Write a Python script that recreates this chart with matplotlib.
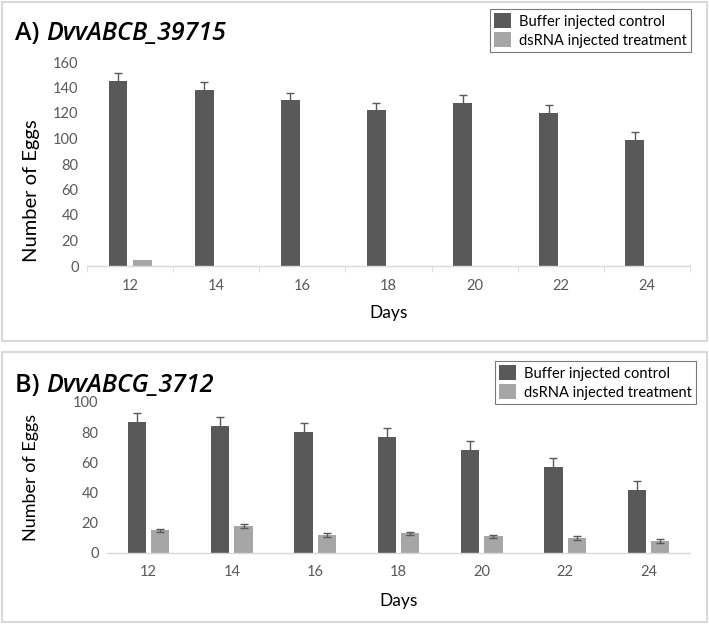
import numpy as np
import matplotlib
matplotlib.use("Agg")
import matplotlib.pyplot as plt
from matplotlib.patches import Rectangle

# data
days = ["12", "14", "16", "18", "20", "22", "24"]

control_a = [145, 138, 130, 122, 128, 120, 99]
control_a_err = [6, 6, 6, 6, 6, 6, 6]
treat_a = [5, 0, 0, 0, 0, 0, 0]
treat_a_err = [0, 0, 0, 0, 0, 0, 0]

control_b = [87, 84, 80, 77, 68, 57, 42]
control_b_err = [6, 6, 6, 6, 6, 6, 6]
treat_b = [15, 18, 12, 13, 11, 10, 8]
treat_b_err = [1.2, 1.2, 1.2, 1.2, 1.2, 1.2, 1.2]

series_labels = ["Buffer injected control", "dsRNA injected treatment"]

DARK = "#595959"
LIGHT = "#a6a6a6"
TEXT = "#595959"
AXIS = "#d9d9d9"

plt.rcParams["font.family"] = ["Lato", "DejaVu Sans"]

W, H = 709, 624
fig = plt.figure(figsize=(W / 100, H / 100), dpi=100)


def px_rect(x0, y0, x1, y1):
    """Figure-fraction rect from pixel corners (top-left origin)."""
    return [x0 / W, 1 - y1 / H, (x1 - x0) / W, (y1 - y0) / H]


def add_errors(ax, xs, vals, errs):
    xs = np.asarray(xs)
    vals = np.asarray(vals, dtype=float)
    errs = np.asarray(errs, dtype=float)
    keep = errs > 0
    if keep.any():
        ax.errorbar(xs[keep], vals[keep], yerr=errs[keep], fmt="none", ecolor=DARK,
                    elinewidth=1, capsize=3, capthick=1, zorder=3)


def draw_panel(rect, box, letter, gene, ctrl, ctrl_err, trt, trt_err,
               ymax, ystep, ticks_at_bounds, legend_pos, title_pos,
               ylabel_xy, ylabel_size, days_y):
    # light grey panel frame
    bx = px_rect(*box)
    fig.patches.append(Rectangle((bx[0], bx[1]), bx[2], bx[3], transform=fig.transFigure,
                                 fill=False, edgecolor="#d9d9d9", linewidth=1.5))

    ax = fig.add_axes(px_rect(*rect))
    x = np.arange(len(days))
    w = 0.22
    off = 0.14
    ax.bar(x - off, ctrl, w, color=DARK, label=series_labels[0], zorder=2)
    ax.bar(x + off, trt, w, color=LIGHT, label=series_labels[1], zorder=2)
    add_errors(ax, x - off, ctrl, ctrl_err)
    add_errors(ax, x + off, trt, trt_err)

    ax.set_xlim(-0.5, len(days) - 0.5)
    ax.set_ylim(0, ymax)
    ax.set_yticks(np.arange(0, ymax + 1, ystep))
    ax.set_xticks(x)
    ax.set_xticklabels(days)
    for s in ["top", "right", "left"]:
        ax.spines[s].set_visible(False)
    ax.spines["bottom"].set_color(AXIS)
    ax.spines["bottom"].set_linewidth(1)
    ax.tick_params(axis="y", length=0, labelsize=10.5, labelcolor=TEXT, pad=6)
    ax.tick_params(axis="x", length=0, labelsize=10.5, labelcolor=TEXT, pad=9)
    if ticks_at_bounds:
        ax.set_xticks(np.arange(-0.5, len(days) + 0.5, 1), minor=True)
        ax.tick_params(axis="x", which="minor", length=4, color=AXIS, direction="out")

    fig.text(ylabel_xy[0] / W, 1 - ylabel_xy[1] / H, "Number of Eggs",
             rotation=90, ha="center", va="center", fontsize=ylabel_size,
             color="black")
    fig.text((rect[0] + rect[2]) / 2 / W, 1 - days_y / H, "Days",
             ha="center", va="center", fontsize=12.5, color="black")

    t1 = fig.text(title_pos[0] / W, 1 - title_pos[1] / H, letter + " ",
                  ha="left", va="baseline", fontsize=18, weight="semibold",
                  family=["Open Sans", "Lato"], color="black")
    ax.annotate(gene, xy=(1, 0), xycoords=t1, ha="left", va="bottom",
                fontsize=18, style="italic", weight="semibold",
                family=["Open Sans", "Lato"], color="black")

    handles, labels = ax.get_legend_handles_labels()
    leg = fig.legend(handles, labels, loc="upper right",
                     bbox_to_anchor=(legend_pos[0] / W, 1 - legend_pos[1] / H),
                     frameon=True, fancybox=False, fontsize=10.5,
                     handlelength=1.2, handleheight=1.2, handletextpad=0.5,
                     borderpad=0.3, labelspacing=0.25, borderaxespad=0)
    leg.get_frame().set_edgecolor("#595959")
    leg.get_frame().set_linewidth(0.8)
    for t in leg.get_texts():
        t.set_color("black")
    return ax


draw_panel((87, 62, 690, 266), (2, 2, 707, 341), "A)", "DvvABCB_39715",
           control_a, control_a_err, treat_a, treat_a_err,
           160, 20, True, (691, 9), (15, 40), (31, 191), 14.5, 313)

draw_panel((107, 402, 690, 553), (2, 352, 707, 622), "B)", "DvvABCG_3712",
           control_b, control_b_err, treat_b, treat_b_err,
           100, 20, False, (696, 361), (15, 392), (31, 477), 13, 601)

fig.savefig("out.png", dpi=100, facecolor="white")
